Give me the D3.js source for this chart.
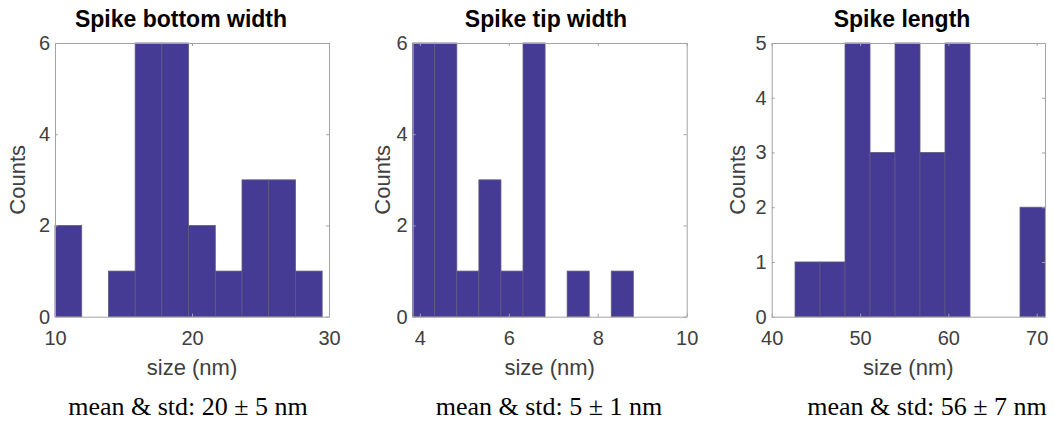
<!DOCTYPE html>
<html>
<head>
<meta charset="utf-8">
<script src="https://cdn.jsdelivr.net/npm/d3@7/dist/d3.min.js"></script>
<style>
  html, body { margin: 0; padding: 0; background: #fff; }
  svg { display: block; }
</style>
</head>
<body>
<svg id="chart" width="1054" height="423"></svg>
<script>
// Histogram of spike bottom widths (nm)
const bottomEdges  = [10, 11.95, 13.9, 15.85, 17.8, 19.75, 21.7, 23.65, 25.6, 27.55, 29.5];
const bottomCounts = [2, 0, 1, 6, 6, 2, 1, 3, 3, 1];
const bottomXTicks = [10, 20, 30];
const bottomYTicks = [0, 2, 4, 6];

// Histogram of spike tip widths (nm)
const tipEdges  = [3.84, 4.336, 4.832, 5.328, 5.824, 6.32, 6.816, 7.312, 7.808, 8.304, 8.8];
const tipCounts = [6, 6, 1, 3, 1, 6, 0, 1, 0, 1];
const tipXTicks = [4, 6, 8, 10];
const tipYTicks = [0, 2, 4, 6];

// Histogram of spike lengths (nm)
const lengthEdges  = [42.64, 45.47, 48.3, 51.13, 53.96, 56.79, 59.62, 62.45, 65.28, 68.11, 70.94];
const lengthCounts = [1, 1, 5, 3, 5, 3, 5, 0, 0, 2];
const lengthXTicks = [40, 50, 60, 70];
const lengthYTicks = [0, 1, 2, 3, 4, 5];

const titles   = ["Spike bottom width", "Spike tip width", "Spike length"];
const captions = ["mean & std: 20 \u00b1 5 nm", "mean & std: 5 \u00b1 1 nm", "mean & std: 56 \u00b1 7 nm"];

const panels = [
  { title: titles[0], caption: captions[0], edges: bottomEdges, counts: bottomCounts,
    xDomain: [10, 30], yMax: 6, xTicks: bottomXTicks, yTicks: bottomYTicks,
    left: 55, width: 274, titleX: 181, captionX: 188, ylabelX: 25 },
  { title: titles[1], caption: captions[1], edges: tipEdges, counts: tipCounts,
    xDomain: [3.84, 10], yMax: 6, xTicks: tipXTicks, yTicks: tipYTicks,
    left: 412.7, width: 274, titleX: 546, captionX: 549, ylabelX: 390 },
  { title: titles[2], caption: captions[2], edges: lengthEdges, counts: lengthCounts,
    xDomain: [40, 70.94], yMax: 5, xTicks: lengthXTicks, yTicks: lengthYTicks,
    left: 771.7, width: 273.3, titleX: 902, captionX: 927, ylabelX: 745 }
];

const plotTop = 43, plotBottom = 316.7;
const axisColor = "#a3a3a3";
const textColor = "#404040";
const barFill = "#453a94";
const barEdge = "#5f5a80";

const svg = d3.select("#chart");

panels.forEach(p => {
  const x = d3.scaleLinear().domain(p.xDomain).range([p.left, p.left + p.width]);
  const y = d3.scaleLinear().domain([0, p.yMax]).range([plotBottom, plotTop]);

  const g = svg.append("g");

  // bars
  const bins = p.counts.map((c, i) => ({ x0: p.edges[i], x1: p.edges[i + 1], c }));
  g.append("g").selectAll("rect")
    .data(bins.filter(b => b.c > 0))
    .join("rect")
    .attr("x", d => x(d.x0))
    .attr("y", d => y(d.c))
    .attr("width", d => x(d.x1) - x(d.x0))
    .attr("height", d => y(0) - y(d.c))
    .attr("fill", barFill)
    .attr("stroke", barEdge)
    .attr("stroke-width", 0.8);

  // axes (inward ticks, box on)
  const styleAxis = sel => {
    sel.selectAll("path.domain").attr("stroke", axisColor).attr("stroke-width", 1);
    sel.selectAll(".tick line").attr("stroke", axisColor).attr("stroke-width", 1);
    sel.selectAll(".tick text")
      .attr("fill", textColor)
      .attr("font-family", "'Liberation Sans', Arial, sans-serif")
      .attr("font-size", 20);
  };

  g.append("g").attr("transform", `translate(0,${plotBottom})`)
    .call(d3.axisBottom(x).tickValues(p.xTicks).tickSizeInner(-3).tickSizeOuter(0).tickPadding(14).tickFormat(d3.format("d")))
    .call(styleAxis);
  g.append("g").attr("transform", `translate(0,${plotTop})`)
    .call(d3.axisTop(x).tickValues(p.xTicks).tickSizeInner(-3).tickSizeOuter(0).tickFormat(""))
    .call(styleAxis);
  g.append("g").attr("transform", `translate(${p.left},0)`)
    .call(d3.axisLeft(y).tickValues(p.yTicks).tickSizeInner(-3).tickSizeOuter(0).tickPadding(5).tickFormat(d3.format("d")))
    .call(styleAxis);
  g.append("g").attr("transform", `translate(${p.left + p.width},0)`)
    .call(d3.axisRight(y).tickValues(p.yTicks).tickSizeInner(-3).tickSizeOuter(0).tickFormat(""))
    .call(styleAxis);

  // title
  g.append("text")
    .attr("x", p.titleX).attr("y", 27)
    .attr("text-anchor", "middle")
    .attr("font-family", "'Liberation Sans', Arial, sans-serif")
    .attr("font-weight", "bold")
    .attr("font-size", 23)
    .attr("fill", "#000")
    .text(p.title);

  // axis labels
  g.append("text")
    .attr("x", p.left + p.width / 2).attr("y", 375)
    .attr("text-anchor", "middle")
    .attr("font-family", "'Liberation Sans', Arial, sans-serif")
    .attr("font-size", 22)
    .attr("fill", textColor)
    .text("size (nm)");

  g.append("text")
    .attr("transform", `translate(${p.ylabelX},${(plotTop + plotBottom) / 2}) rotate(-90)`)
    .attr("text-anchor", "middle")
    .attr("font-family", "'Liberation Sans', Arial, sans-serif")
    .attr("font-size", 22)
    .attr("fill", textColor)
    .text("Counts");

  // summary statistic
  g.append("text")
    .attr("x", p.captionX).attr("y", 415)
    .attr("text-anchor", "middle")
    .attr("font-family", "'Liberation Serif', 'Times New Roman', serif")
    .attr("font-size", 26)
    .attr("fill", "#000")
    .text(p.caption);
});
</script>
</body>
</html>
